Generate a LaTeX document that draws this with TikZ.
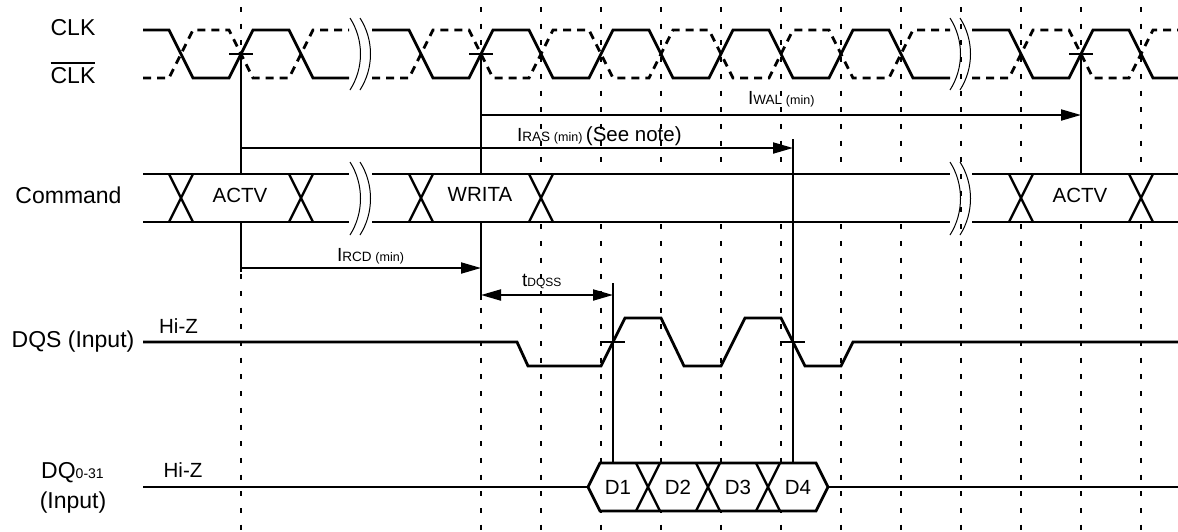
\documentclass[tikz,border=0pt]{standalone}
\usepackage{fontspec}
\setmainfont{Liberation Sans}
\usetikzlibrary{arrows.meta}
\newcommand\myfs[1]{\fontsize{#1}{#1}\selectfont}
\begin{document}
\begin{tikzpicture}[x=1pt,y=-1pt,
  sig/.style={line width=2.8pt, line join=miter},
  sigd/.style={sig, dash pattern=on 8pt off 6pt},
  gridln/.style={line width=2pt, dash pattern=on 5pt off 11.7pt},
  vline/.style={line width=2pt},
  xl/.style={line width=2.4pt},
  brk/.style={line width=1pt},
  arr/.style={line width=2pt, -{Triangle[length=20pt,width=11pt]}},
  darr/.style={line width=2pt, {Triangle[length=20pt,width=11pt]}-{Triangle[length=20pt,width=11pt]}},
  lbl/.style={inner sep=0pt, font=\myfs{23}},
  txt/.style={inner sep=0pt, font=\myfs{20.5}},
  tl/.style={inner sep=0pt, anchor=base west}]
\useasboundingbox (0,0) rectangle (1178,531);

% grid lines
\foreach \x in {241,481,541,...,1141} \draw[gridln] (\x,7) -- (\x,531);

% solid verticals
\draw[vline] (241,54) -- (241,272);
\draw[vline] (481,54) -- (481,300);
\draw[vline] (1081,54) -- (1081,174);
\draw[vline] (613,283) -- (613,463);

% ticks
\foreach \x in {241,481,1081} \draw[vline] (\x-12,54) -- (\x+12,54);
\draw[vline] (601,342) -- (625,342);
\draw[vline] (781,342) -- (805,342);

% CLK bar (dashed)
\draw[sigd] (143,78)--(169,78)--(193,30)--(229,30)--(253,78)--(289,78)--(313,30)--(349,30);
\draw[sigd] (372,78)--(409,78)--(433,30)--(469,30)--(493,78)--(529,78)--(553,30)--(589,30)--(613,78)--(649,78)--(673,30)--(709,30)--(733,78)--(769,78)--(793,30)--(829,30)--(853,78)--(889,78)--(913,30)--(950,30);
\draw[sigd] (972,78)--(1009,78)--(1033,30)--(1069,30)--(1093,78)--(1129,78)--(1153,30)--(1178,30);
% CLK (solid)
\draw[sig] (143,30)--(169,30)--(193,78)--(229,78)--(253,30)--(289,30)--(313,78)--(349,78);
\draw[sig] (372,30)--(409,30)--(433,78)--(469,78)--(493,30)--(529,30)--(553,78)--(589,78)--(613,30)--(649,30)--(673,78)--(709,78)--(733,30)--(769,30)--(793,78)--(829,78)--(853,30)--(889,30)--(913,78)--(950,78);
\draw[sig] (972,30)--(1009,30)--(1033,78)--(1069,78)--(1093,30)--(1129,30)--(1153,78)--(1178,78);

% white fills for buses
\fill[white] (143,174) rectangle (349,222);
\fill[white] (372,174) rectangle (950,222);
\fill[white] (972,174) rectangle (1178,222);
\fill[white] (588,487) -- (600,463) -- (816,463) -- (828,487) -- (816,511) -- (600,511) -- cycle;

% break marks
\foreach \c/\t/\b in {361/18/90, 961/18/90, 361/162/235, 961/162/235} {
  \draw[brk] (\c-11,\t) .. controls (\c+3,\t+22) and (\c+3,\b-22) .. (\c-11,\b);
  \draw[brk] (\c-1,\t) .. controls (\c+13,\t+22) and (\c+13,\b-22) .. (\c-1,\b);
}

% command bus
\draw[sig] (143,174) -- (349,174) (143,222) -- (349,222);
\draw[sig] (372,174) -- (950,174) (372,222) -- (950,222);
\draw[sig] (972,174) -- (1178,174) (972,222) -- (1178,222);
\foreach \x in {181,301,421,541,1021,1141}
  \draw[xl] (\x-12,174) -- (\x+12,222) (\x-12,222) -- (\x+12,174);

% DQS
\draw[sig] (143,342) -- (517,342) -- (528,366) -- (601,366) -- (625,318) -- (661,318) -- (684,366) -- (721,366) -- (745,318) -- (781,318) -- (805,366) -- (841,366) -- (853,342) -- (1178,342);

% DQ
\draw[sig] (143,487) -- (588,487);
\draw[sig] (588,487) -- (600,463) -- (816,463) -- (828,487) -- (816,511) -- (600,511) -- cycle;
\draw[sig] (828,487) -- (1178,487);
\foreach \x in {648,708,768}
  \draw[xl] (\x-12,463) -- (\x+12,511) (\x-12,511) -- (\x+12,463);

% vertical over command
\draw[vline] (793,139) -- (793,463);

% arrows
\coordinate (w1) at (481,115); \coordinate (w2) at (1081,115);
\coordinate (r1) at (241,148); \coordinate (r2) at (793,148);
\coordinate (c1) at (241,268); \coordinate (c2) at (481,268);
\coordinate (q1) at (481,295); \coordinate (q2) at (613,295);
\draw[arr] (w1) -- (w2);
\draw[arr] (r1) -- (r2);
\draw[arr] (c1) -- (c2);
\draw[darr] (q1) -- (q2);

% arrow labels
\node[tl] (lwal) at (748,104) {\myfs{19}I\myfs{13.5}WAL \myfs{12.5}(min)};
\node[tl] (lras) at (517,141) {\myfs{19}I\myfs{13.5}RAS \myfs{12.5}(min) \myfs{20.5}(See note)};
\node[tl] (lrcd) at (337,261) {\myfs{19}I\myfs{13.5}RCD \myfs{12.5}(min)};
\node[tl] (ldqss) at (522,286) {\myfs{19}t\myfs{12}DQSS};

% signal labels
\node[lbl, anchor=base] (nclk) at (73,35) {CLK};
\node[lbl, anchor=base] (nclkb) at (73,83) {\vbox{\hrule height 1.8pt\kern 3.2pt\hbox{CLK}}};
\node[lbl, anchor=base] (ncmd) at (68.5,203) {Command};
\node[lbl, anchor=base] (ndqs) at (73,347) {DQS (Input)};
\node[lbl, anchor=base] (ndq) at (72.5,478) {DQ{\myfs{14}0-31}};
\node[lbl, anchor=base] (ndqi) at (73,508) {(Input)};
\node[txt, anchor=base] (hz1) at (178.5,333) {Hi-Z};
\node[txt, anchor=base] (hz2) at (183,477) {Hi-Z};

% bus labels
\node[txt, anchor=base] (a1) at (240,202) {ACTV};
\node[txt, anchor=base] (wr) at (480,201) {WRITA};
\node[txt, anchor=base] (a2) at (1080,202) {ACTV};
\foreach \i/\x in {1/618,2/678,3/738,4/798}
  \node[txt, anchor=base] (d\i) at (\x,494) {D\i};
\end{tikzpicture}
\end{document}
